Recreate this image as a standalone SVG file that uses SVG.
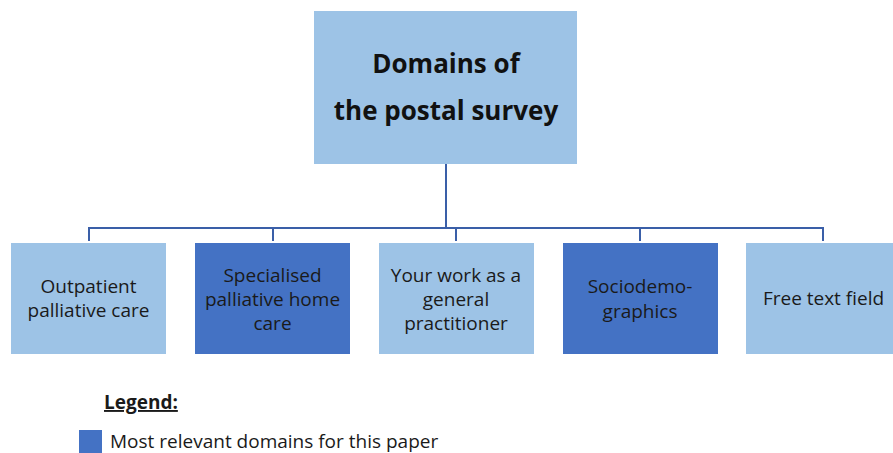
<svg xmlns="http://www.w3.org/2000/svg" width="893" height="453" viewBox="0 0 893 453">
  <style>
    .light { fill: #9DC3E6; }
    .dark { fill: #4472C4; }
    .wire { fill: none; stroke: #3A5FA8; stroke-width: 2; }
    .title { font-family: "Open Sans", "Liberation Sans", sans-serif; font-weight: bold; font-size: 26px; fill: #111111; text-anchor: middle; }
    .label { font-family: "Open Sans", "Liberation Sans", sans-serif; font-size: 19px; fill: #1a1a1a; text-anchor: middle; }
    .legend { font-family: "Open Sans", "Liberation Sans", sans-serif; font-size: 19px; fill: #1a1a1a; }
  </style>
  <rect width="893" height="453" fill="#FFFFFF"/>

  <!-- tree connectors -->
  <g id="connectors">
    <path class="wire" d="M446 164 V228"/>
    <path class="wire" d="M89 241 V228 H823 V241"/>
    <path class="wire" d="M273 228 V241"/>
    <path class="wire" d="M456 228 V241"/>
    <path class="wire" d="M640 228 V241"/>
  </g>

  <g id="root">
    <rect class="light" x="314" y="11" width="263" height="153"/>
    <text class="title" x="446" y="73">Domains of</text>
    <text class="title" x="446" y="120">the postal survey</text>
  </g>

  <g id="outpatient">
    <rect class="light" x="11" y="243" width="155" height="111"/>
    <text class="label" x="88.5" y="293">Outpatient</text>
    <text class="label" x="88.5" y="317">palliative care</text>
  </g>

  <g id="specialised">
    <rect class="dark" x="195" y="243" width="155" height="111"/>
    <text class="label" x="272.5" y="282">Specialised</text>
    <text class="label" x="272.5" y="306">palliative home</text>
    <text class="label" x="272.5" y="330">care</text>
  </g>

  <g id="gp-work">
    <rect class="light" x="379" y="243" width="155" height="111"/>
    <text class="label" x="456" y="282">Your work as a</text>
    <text class="label" x="456" y="306">general</text>
    <text class="label" x="456" y="330">practitioner</text>
  </g>

  <g id="sociodemographics">
    <rect class="dark" x="563" y="243" width="155" height="111"/>
    <text class="label" x="640" y="293">Sociodemo-</text>
    <text class="label" x="640" y="318">graphics</text>
  </g>

  <g id="free-text">
    <rect class="light" x="746" y="243" width="155" height="111"/>
    <text class="label" x="823.5" y="305">Free text field</text>
  </g>

  <g id="legend">
    <text class="legend" x="104" y="409" font-weight="bold" text-decoration="underline">Legend:</text>
    <rect class="dark" x="79" y="430" width="23" height="23"/>
    <text class="legend" x="110" y="448">Most relevant domains for this paper</text>
  </g>
</svg>
